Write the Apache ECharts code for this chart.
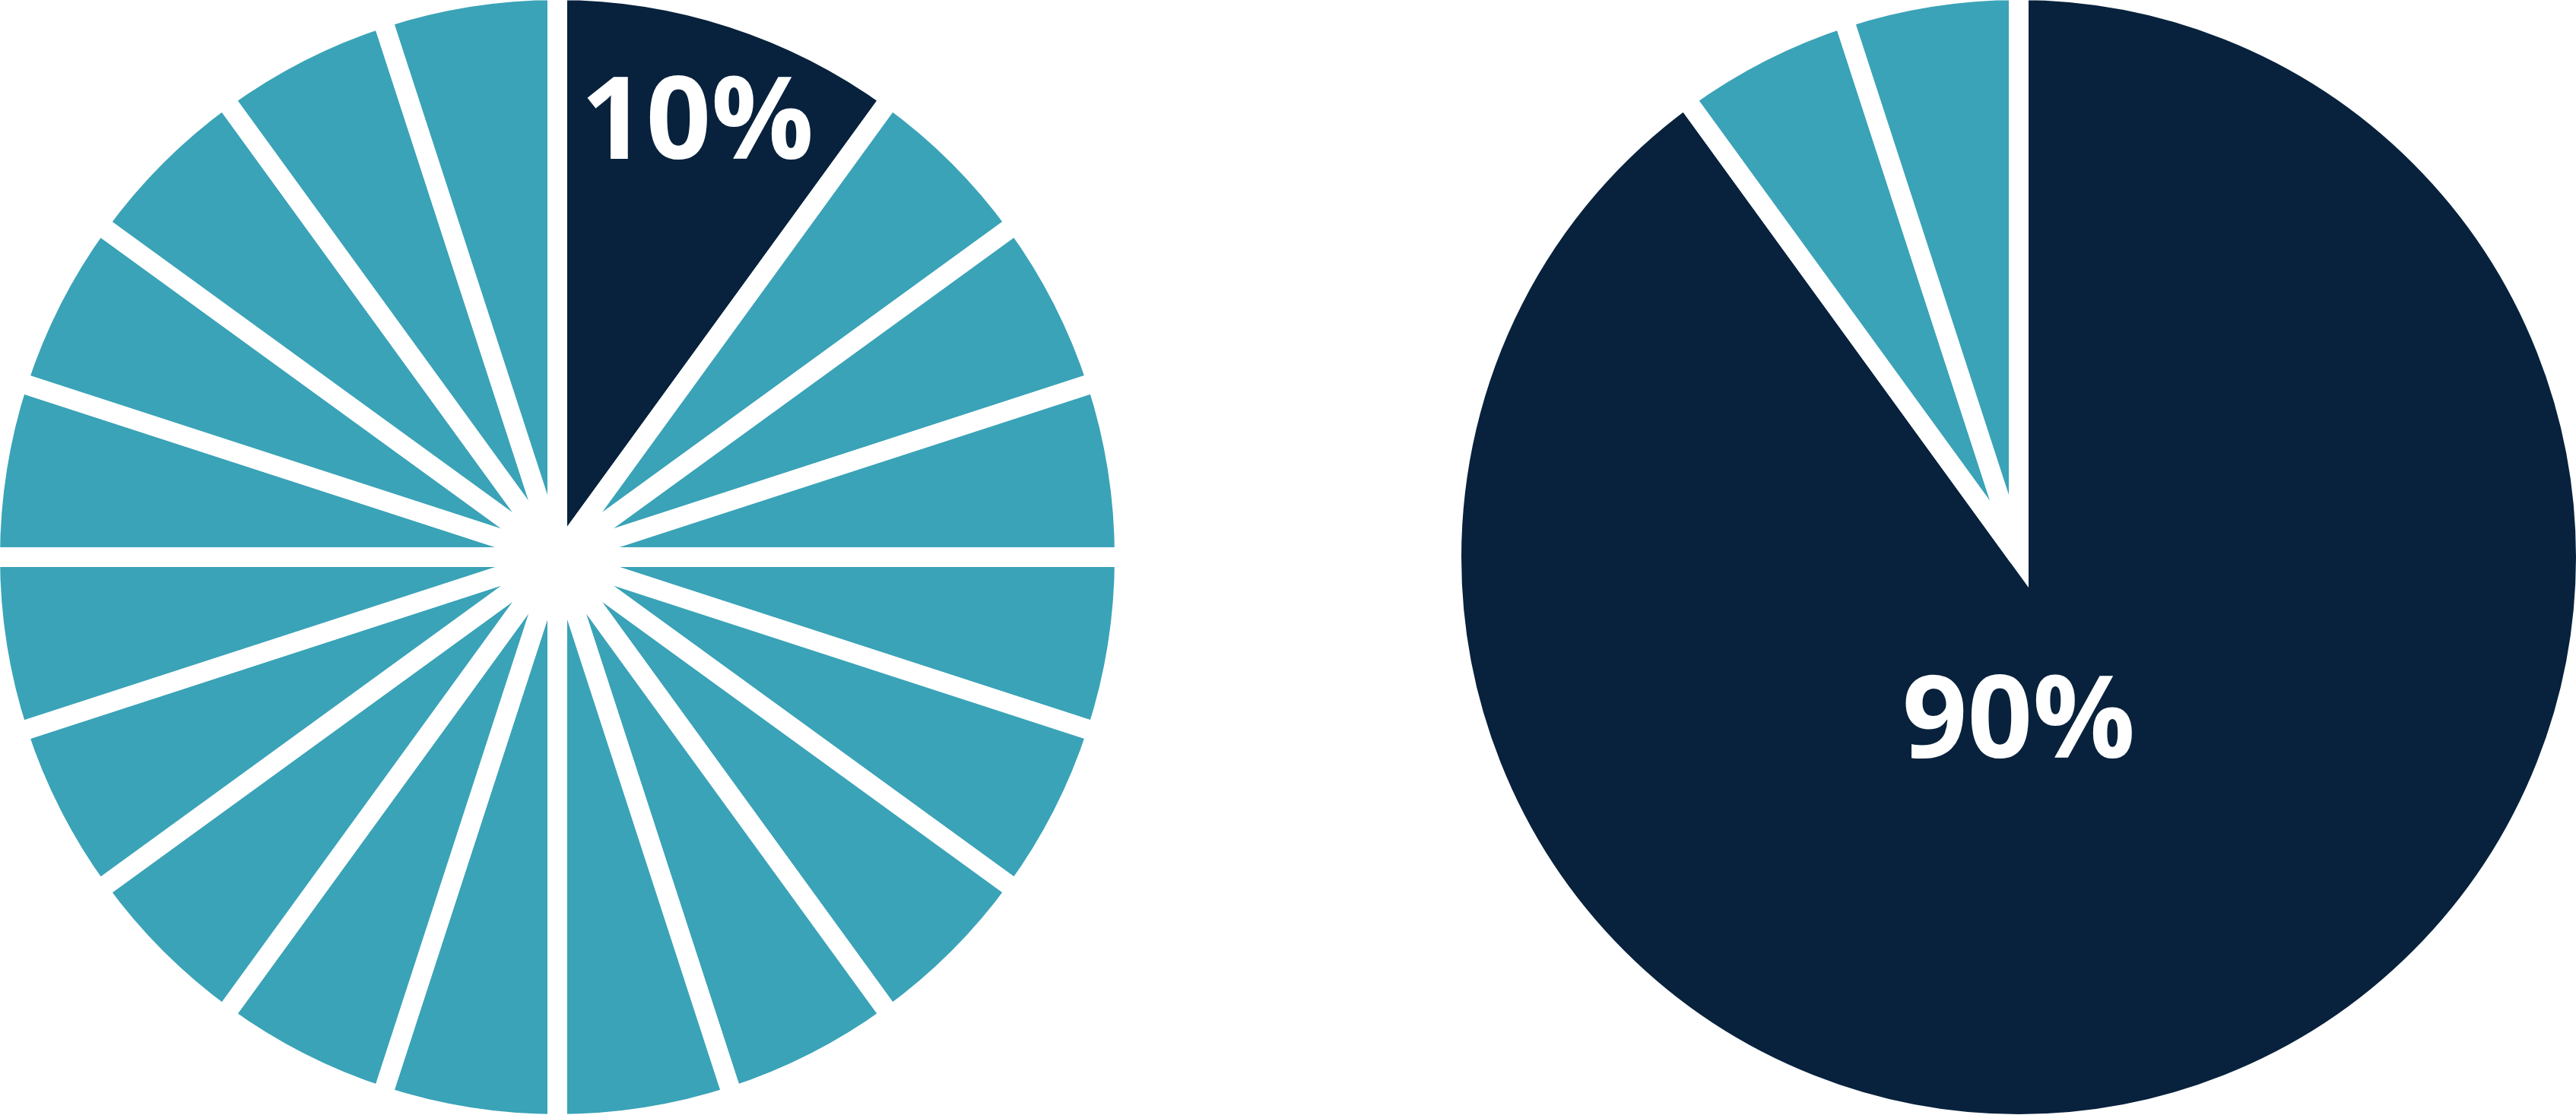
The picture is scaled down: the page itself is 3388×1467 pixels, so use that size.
<!DOCTYPE html>
<html>
<head>
<meta charset="utf-8">
<script src="https://cdn.jsdelivr.net/npm/echarts@6/dist/echarts.min.js"></script>
<style>
  html, body { margin: 0; padding: 0; background: #ffffff; }
  #chart { width: 3388px; height: 1467px; }
</style>
</head>
<body>
<div id="chart"></div>
<script>
// left pie: one 10% share, the rest split in 5% pieces
const leftValues = [10, 5, 5, 5, 5, 5, 5, 5, 5, 5, 5, 5, 5, 5, 5, 5, 5, 5, 5];
// right pie: 90% share, the rest in two 5% pieces
const rightValues = [90, 5, 5];
const highlightIndex = 0;

const DARK = '#08223d';
const TEAL = '#3aa3b7';

function pieData(values) {
  return values.map((v, i) => ({
    value: v,
    itemStyle: i === highlightIndex
      ? { color: DARK, borderJoin: 'miter', borderMiterLimit: 10 }
      : { color: TEAL, borderJoin: 'bevel' },
  }));
}

function labelData(values) {
  return values.map((v, i) => ({
    value: v,
    label: { show: i === highlightIndex },
  }));
}

const labelText = {
  position: 'inside',
  color: '#ffffff',
  fontFamily: 'Open Sans',
  fontWeight: 'bold',
  fontSize: 150,
  formatter: (p) => p.value + '%',
};

const baseSlices = {
  type: 'pie',
  startAngle: 90,
  clockwise: true,
  radius: 746,
  label: { show: false },
  labelLine: { show: false },
  itemStyle: {
    borderColor: '#ffffff',
    borderWidth: 26,
  },
  emphasis: { disabled: true },
};

// transparent copies of the pies, only used to carry the percent labels
const labelLayer = {
  type: 'pie',
  silent: true,
  clockwise: true,
  itemStyle: { color: 'transparent', borderWidth: 0 },
  labelLine: { show: false },
  label: labelText,
  emphasis: { disabled: true },
};

const option = {
  animation: false,
  series: [
    Object.assign({}, baseSlices, {
      center: [733, 733],
      data: pieData(leftValues),
    }),
    Object.assign({}, baseSlices, {
      center: [2655, 733],
      data: pieData(rightValues),
    }),
    Object.assign({}, labelLayer, {
      startAngle: 90,
      center: [733, 733],
      radius: [440, 746],
      data: labelData(leftValues),
    }),
    // turned so the big slice's label sits straight under the centre
    Object.assign({}, labelLayer, {
      startAngle: 72,
      center: [2655, 733],
      radius: [0, 436],
      data: labelData(rightValues),
    }),
  ],
};

const chart = echarts.init(document.getElementById('chart'));
chart.setOption(option);
</script>
</body>
</html>
